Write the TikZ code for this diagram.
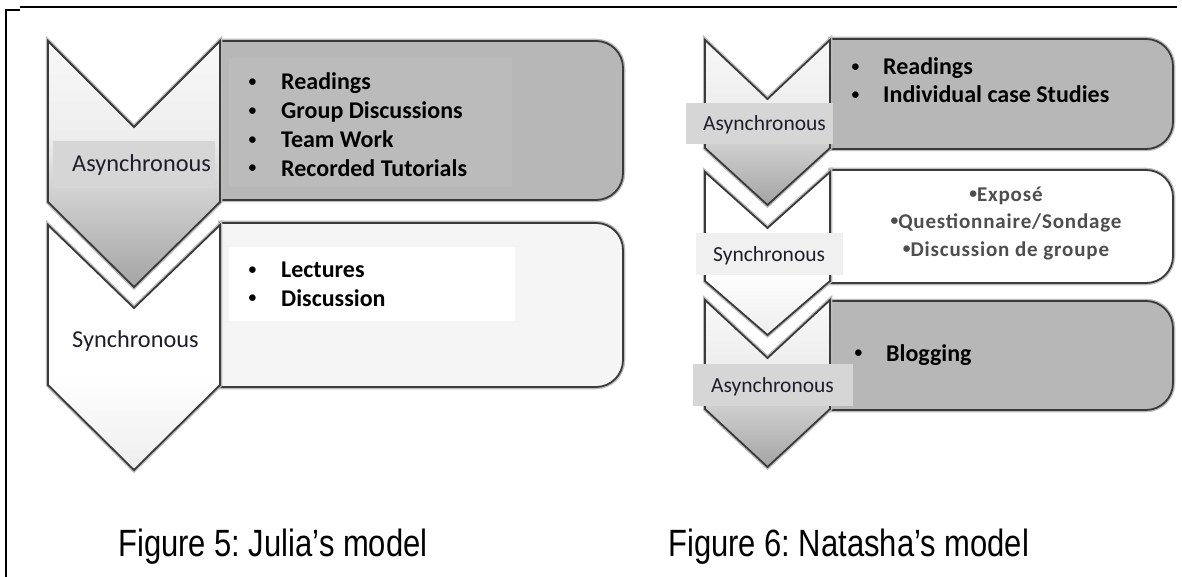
\documentclass[tikz,border=0pt]{standalone}
\usepackage{fontspec}
\setmainfont{Carlito}
\newfontfamily\capfont[FakeStretch=0.815]{Liberation Sans}
\definecolor{outl}{HTML}{3A3A3A}
\definecolor{glow}{HTML}{BDBDBD}
\definecolor{boxgray}{HTML}{B7B7B7}
\definecolor{boxgrayhi}{HTML}{BBBBBB}
\definecolor{boxwhite}{HTML}{F5F5F5}
\definecolor{bandgray}{HTML}{D6D6D6}
\definecolor{bandlight}{HTML}{F0F0F0}
\definecolor{labtext}{HTML}{1E1E2A}
\definecolor{midtext}{HTML}{4E4E4E}
\definecolor{shA}{HTML}{A4A4A4}
\definecolor{shB}{HTML}{D0D0D0}
\definecolor{shC}{HTML}{EEEEEE}
\definecolor{shD}{HTML}{F8F8F8}
\pgfdeclareverticalshading{chevgray}{100bp}{color(0bp)=(shA); color(25bp)=(shA); color(44bp)=(shB); color(56bp)=(shC); color(75bp)=(shD); color(100bp)=(shD)}
\pgfdeclareverticalshading{chevwhite}{100bp}{color(0bp)=(shC); color(25bp)=(shC); color(45bp)=(white); color(100bp)=(white)}
% chevron: left, right, top, notch, shoulder, tip, shading
\newcommand\mychev[7]{%
  \path[draw=glow, line width=4.5] (#1,#3) -- ({(#1+#2)/2},#4) -- (#2,#3) -- (#2,#5) -- ({(#1+#2)/2},#6) -- (#1,#5) -- cycle;
  \path[shading=#7, draw=outl, line width=1.8, line join=miter] (#1,#3) -- ({(#1+#2)/2},#4) -- (#2,#3) -- (#2,#5) -- ({(#1+#2)/2},#6) -- (#1,#5) -- cycle;}
% box: left, right, top, bottom, fill
\newcommand\mybox[5]{%
  \path[draw=glow, line width=4.5] (#1,#3) -- ({#2-27},#3) arc[start angle=-90,end angle=0,radius=27] -- (#2,{#4-27}) arc[start angle=0,end angle=90,radius=27] -- (#1,#4) -- cycle;
  \path[fill=#5, draw=outl, line width=1.8] (#1,#3) -- ({#2-27},#3) arc[start angle=-90,end angle=0,radius=27] -- (#2,{#4-27}) arc[start angle=0,end angle=90,radius=27] -- (#1,#4) -- cycle;}
\newcommand\smallbul{\raisebox{3.2pt}{\fontsize{15.5}{15}\selectfont •}}
\newcommand\bul{\makebox[33pt][l]{\hspace{0.5pt}\smallbul}}
\tikzset{
  lab/.style={font=\fontsize{24.3}{28}\selectfont, text=labtext, inner sep=0, anchor=base west},
  labs/.style={font=\fontsize{21.5}{26}\selectfont, text=labtext, inner sep=0, anchor=base west},
  item/.style={font=\bfseries\fontsize{24}{28}\selectfont, inner sep=0, anchor=base west},
  mid/.style={font=\bfseries\fontsize{21}{24}\selectfont\addfontfeature{LetterSpace=4}, text=midtext, inner sep=0, anchor=base},
  captxt/.style={font=\capfont\fontsize{38}{42}\selectfont\frenchspacing, inner sep=0, anchor=base west},
  frameline/.style={draw=black, line width=1.5}
}
\begin{document}
\begin{tikzpicture}[x=1pt,y=-1pt]
\useasboundingbox[fill=white] (0,0) rectangle (1182,577);
% frame
\coordinate (f1) at (6,577);
\coordinate (f2) at (6,10);
\coordinate (f3) at (20,10);
\coordinate (f4) at (20,7);
\coordinate (f5) at (1177,7);
\draw[frameline] (f1) -- (f2) -- (f3);
\draw[frameline] (f4) -- (f5);
% ---------------- Julia's model ----------------
\mybox{220}{623}{223}{387}{boxwhite}
\mybox{220}{623}{41}{200}{boxgray}
\mychev{48}{220}{225}{308}{385}{470}{chevwhite}
\mychev{48}{220}{41}{127}{202}{287}{chevgray}
\path[fill=boxgrayhi] (229,58) rectangle (512,187);
\path[fill=white] (229,247) rectangle (515,321);
\path[fill=bandgray] (53,141) rectangle (215,188);
\node[lab] (ja) at (72,172) {Asynchronous};
\node[lab] (js) at (72,347) {Synchronous};
\node[item] (j1) at (248,90) {\bul Readings};
\node[item] (j2) at (248,118.7) {\bul Group Discussions};
\node[item] (j3) at (248,147.4) {\bul Team Work};
\node[item] (j4) at (248,176.1) {\bul Recorded Tutorials};
\node[item] (j5) at (248,277.5) {\bul Lectures};
\node[item] (j6) at (248,306) {\bul Discussion};
% ---------------- Natasha's model ----------------
\mybox{830}{1173}{301}{410}{boxgray}
\mybox{830}{1173}{170}{283}{white}
\mybox{830}{1173}{39}{149}{boxgray}
\mychev{705}{830}{300}{358}{409}{467}{chevgray}
\mychev{705}{830}{172}{228}{281}{335}{chevwhite}
\mychev{705}{830}{40}{99}{148}{205}{chevgray}
\path[fill=bandgray] (686,103) rectangle (833,144);
\path[fill=bandlight] (696,233) rectangle (843,275);
\path[fill=bandgray] (693,364) rectangle (853,406);
\node[labs] (na) at (703,130.5) {Asynchronous};
\node[labs] (ns) at (713,261.5) {Synchronous};
\node[labs] (nc) at (711,392.5) {Asynchronous};
\node[item] (n1) at (851,75) {\makebox[32pt][l]{\hspace{0.5pt}\smallbul}Readings};
\node[item] (n2) at (851,103) {\makebox[32pt][l]{\hspace{0.5pt}\smallbul}Individual case Studies};
\node[item] (n3) at (854,361) {\makebox[32pt][l]{\hspace{0.5pt}\smallbul}Blogging};
\node[mid] (m1) at (1006,201.5) {\smallbul Exposé};
\node[mid] (m2) at (1006,228.5) {\smallbul Questionnaire/Sondage};
\node[mid] (m3) at (1006,256.5) {\smallbul Discussion de groupe};
% captions
\node[captxt] (c5) at (118,556) {Figure 5: Julia’s model};
\node[captxt] (c6) at (668,556) {Figure 6: Natasha’s model};
\end{tikzpicture}
\end{document}
